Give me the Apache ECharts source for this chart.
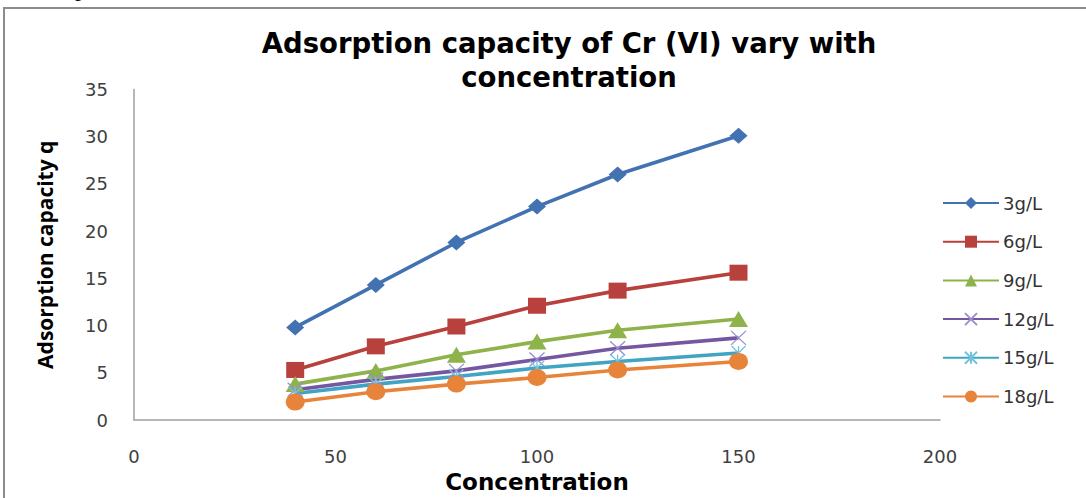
<!DOCTYPE html>
<html>
<head>
<meta charset="utf-8">
<title>Adsorption capacity of Cr (VI)</title>
<script src="https://cdn.jsdelivr.net/npm/echarts@6/dist/echarts.min.js"></script>
<style>
  html, body { margin: 0; padding: 0; background: #ffffff; }
  #chart { width: 1086px; height: 498px; }
</style>
</head>
<body>
<div id="chart"></div>
<script>
// Initial Cr (VI) concentration (x) and adsorption capacity q for each adsorbent dose
const concentration = [40, 60, 80, 100, 120, 150];
const dose3 = [9.8, 14.3, 18.8, 22.6, 26.0, 30.1];
const dose6 = [5.3, 7.8, 9.9, 12.1, 13.7, 15.6];
const dose9 = [3.8, 5.2, 6.9, 8.3, 9.5, 10.7];
const dose12 = [3.2, 4.3, 5.2, 6.4, 7.6, 8.7];
const dose15 = [2.8, 3.8, 4.6, 5.5, 6.2, 7.1];
const dose18 = [1.9, 3.0, 3.8, 4.5, 5.3, 6.2];
const seriesNames = ['3g/L', '6g/L', '9g/L', '12g/L', '15g/L', '18g/L'];
const xTicks = { min: 0, max: 200, step: 50 };
const yTicks = { min: 0, max: 35, step: 5 };

const pairs = (ys) => concentration.map((x, i) => [x, ys[i]]);

const crossPath = 'path://M0,0L10,10M10,0L0,10';
const starPath = 'path://M5,0L5,10M0,0L10,10M10,0L0,10';

function lineSeries(name, values, color, symbol, size, extraItem) {
  return {
    name: name,
    type: 'line',
    data: pairs(values),
    symbol: symbol,
    symbolSize: size,
    lineStyle: { color: color, width: 3.6 },
    itemStyle: Object.assign({ color: color }, extraItem || {}),
    emphasis: { disabled: true }
  };
}

const chart = echarts.init(document.getElementById('chart'), null, { renderer: 'svg' });

chart.setOption({
  animation: false,
  backgroundColor: '#ffffff',
  graphic: [
    {
      type: 'rect',
      shape: { x: 4, y: 8, width: 1200, height: 600 },
      style: { fill: 'none', stroke: '#8c8c8c', lineWidth: 2 },
      silent: true
    },
    {
      type: 'text',
      x: 75, y: -0.5,
      style: {
        text: 'p', fill: '#000000',
        font: '24px "Liberation Serif"',
        align: 'left', verticalAlign: 'bottom'
      },
      silent: true
    },
    {
      type: 'text',
      x: 569, y: 60,
      style: {
        text: 'Adsorption capacity of Cr (VI) vary with\nconcentration',
        fill: '#000000',
        font: 'bold 27.5px "DejaVu Sans"',
        lineHeight: 34,
        align: 'center', verticalAlign: 'middle'
      },
      silent: true
    }
  ],
  grid: { left: 134, right: 146, top: 89.5, bottom: 75.5 },
  legend: {
    orient: 'vertical',
    left: 942,
    top: 193,
    padding: 0,
    itemWidth: 56,
    itemHeight: 15,
    itemGap: 18.7,
    data: seriesNames,
    textStyle: {
      fontFamily: 'DejaVu Sans',
      fontSize: 18,
      color: '#333333',
      lineHeight: 20,
      padding: [0, 0, 0, -1]
    }
  },
  xAxis: {
    type: 'value',
    min: xTicks.min, max: xTicks.max, interval: xTicks.step,
    name: 'Concentration',
    nameLocation: 'middle',
    nameGap: 50,
    nameTextStyle: { fontFamily: 'DejaVu Sans', fontWeight: 'bold', fontSize: 23, color: '#000000' },
    axisLine: { show: true, lineStyle: { color: '#a0a0a0', width: 1.5 } },
    axisTick: { show: false },
    splitLine: { show: false },
    axisLabel: { margin: 27, fontFamily: 'DejaVu Sans', fontSize: 18, color: '#404040' }
  },
  yAxis: {
    type: 'value',
    min: yTicks.min, max: yTicks.max, interval: yTicks.step,
    name: 'Adsorption capacity q',
    nameLocation: 'middle',
    nameGap: 79,
    nameTextStyle: { fontFamily: 'Open Sans', fontWeight: 'bold', fontSize: 21, color: '#000000' },
    axisLine: { show: true, lineStyle: { color: '#a0a0a0', width: 1.5 } },
    axisTick: { show: false },
    splitLine: { show: false },
    axisLabel: { margin: 26, fontFamily: 'DejaVu Sans', fontSize: 18, color: '#404040' }
  },
  series: [
    lineSeries(seriesNames[0], dose3, '#4272B2', 'diamond', [18, 16]),
    lineSeries(seriesNames[1], dose6, '#B8403D', 'rect', [18, 16]),
    lineSeries(seriesNames[2], dose9, '#8DB34A', 'triangle', [19, 16]),
    lineSeries(seriesNames[3], dose12, '#7557A1', crossPath, [15, 14],
      { borderColor: '#9a8fd0', borderWidth: 1.3 }),
    lineSeries(seriesNames[4], dose15, '#3FA5C2', starPath, [14, 14],
      { borderColor: '#72c4de', borderWidth: 1.3 }),
    lineSeries(seriesNames[5], dose18, '#E8833A', 'circle', [19, 17])
  ]
});
</script>
</body>
</html>
